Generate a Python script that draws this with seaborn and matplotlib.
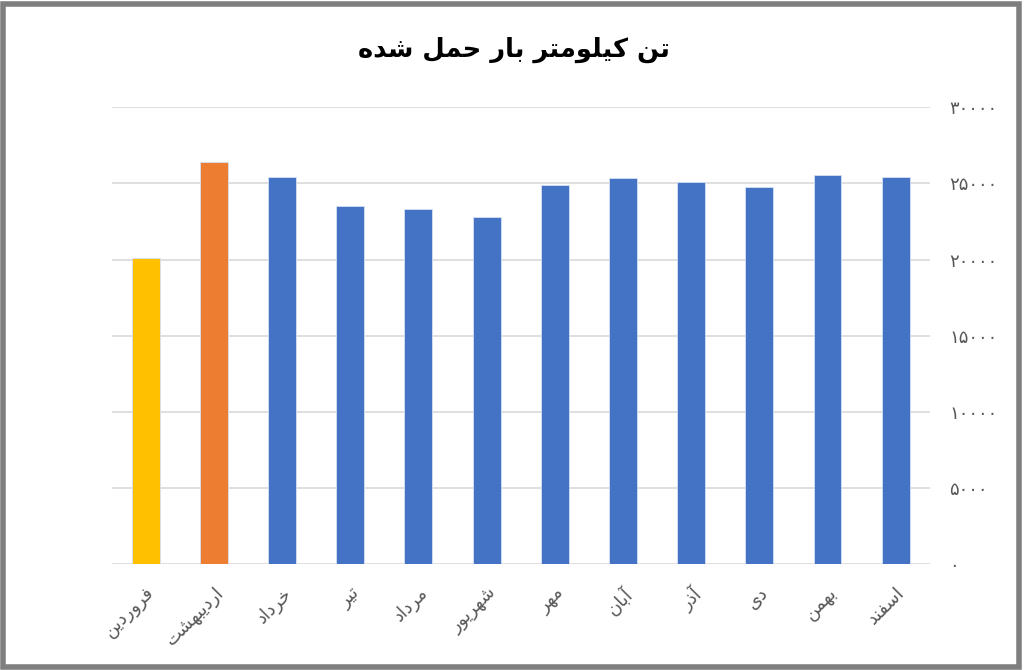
import numpy as np
import pandas as pd
import matplotlib
matplotlib.use("Agg")
import matplotlib.pyplot as plt
import seaborn as sns
from matplotlib.patches import Rectangle

sns.set_theme(style="white")
plt.rcParams["font.family"] = ["DejaVu Sans"]

title = "تن کیلومتر بار حمل شده"
months = ["فروردین", "اردیبهشت", "خرداد", "تیر", "مرداد", "شهریور",
          "مهر", "آبان", "آذر", "دی", "بهمن", "اسفند"]
values = [20070, 26400, 25400, 23530, 23310, 22790,
          24890, 25370, 25090, 24780, 25530, 25440]
bar_colors = ["#FFC000", "#ED7D31"] + ["#4472C4"] * 10
y_ticks = [0, 5000, 10000, 15000, 20000, 25000, 30000]

# matplotlib has no arabic shaping, so pick presentation forms by hand
# forms: isolated, final, initial, medial
FORMS = {
    "ا": ("\uFE8D", "\uFE8E"), "آ": ("\uFE81", "\uFE82"),
    "د": ("\uFEA9", "\uFEAA"), "ذ": ("\uFEAB", "\uFEAC"),
    "ر": ("\uFEAD", "\uFEAE"), "و": ("\uFEED", "\uFEEE"),
    "ب": ("\uFE8F", "\uFE90", "\uFE91", "\uFE92"),
    "ت": ("\uFE95", "\uFE96", "\uFE97", "\uFE98"),
    "ح": ("\uFEA1", "\uFEA2", "\uFEA3", "\uFEA4"),
    "خ": ("\uFEA5", "\uFEA6", "\uFEA7", "\uFEA8"),
    "س": ("\uFEB1", "\uFEB2", "\uFEB3", "\uFEB4"),
    "ش": ("\uFEB5", "\uFEB6", "\uFEB7", "\uFEB8"),
    "ف": ("\uFED1", "\uFED2", "\uFED3", "\uFED4"),
    "ل": ("\uFEDD", "\uFEDE", "\uFEDF", "\uFEE0"),
    "م": ("\uFEE1", "\uFEE2", "\uFEE3", "\uFEE4"),
    "ن": ("\uFEE5", "\uFEE6", "\uFEE7", "\uFEE8"),
    "ه": ("\uFEE9", "\uFEEA", "\uFEEB", "\uFEEC"),
    "ی": ("\uFBFC", "\uFBFD", "\uFBFE", "\uFBFF"),
    "ک": ("\uFB8E", "\uFB8F", "\uFB90", "\uFB91"),
}


def shape(text):
    out = []
    for i, ch in enumerate(text):
        if ch not in FORMS:
            out.append(ch)
            continue
        prev = text[i - 1] if i > 0 else ""
        nxt = text[i + 1] if i + 1 < len(text) else ""
        join_prev = prev in FORMS and len(FORMS[prev]) == 4
        join_next = len(FORMS[ch]) == 4 and nxt in FORMS
        f = FORMS[ch]
        if join_prev and join_next:
            out.append(f[3])
        elif join_prev:
            out.append(f[1])
        elif join_next:
            out.append(f[2])
        else:
            out.append(f[0])
    return "".join(out)[::-1]


def fa_digits(n):
    return str(n).translate(str.maketrans("0123456789", "۰۱۲۳۴۵۶۷۸۹"))


df = pd.DataFrame({"month": months, "value": values})

fig = plt.figure(figsize=(10.24, 6.7), dpi=100)
ax = fig.add_axes([0.109, 0.158, 0.799, 0.682])

sns.barplot(data=df, x="month", y="value", hue="month", palette=bar_colors,
            saturation=1, width=0.41, legend=False, ax=ax,
            edgecolor="#D6E0F2", linewidth=0.6, zorder=3)

ax.set_ylim(0, 30000)
ax.set_xlim(-0.5, len(months) - 0.5)
ax.yaxis.tick_right()
ax.set_yticks(y_ticks)
ax.set_yticklabels([fa_digits(v) for v in y_ticks], fontsize=13, color="#595959",
                   ha="left")
ax.tick_params(axis="y", length=0, pad=14)
ax.set_xticks(range(len(months)))
ax.set_xticklabels([shape(m) for m in months], rotation=45, ha="right",
                   rotation_mode="anchor", fontsize=13, color="#595959")
ax.tick_params(axis="x", length=0, pad=14)
ax.set_xlabel("")
ax.set_ylabel("")
ax.yaxis.grid(True, color="#D9D9D9", linewidth=1.2, zorder=0)
for s in ax.spines.values():
    s.set_visible(False)

fig.text(0.502, 0.925, shape(title), ha="center", va="center",
         fontsize=18.5, fontweight="heavy", color="black")

fig.patches.append(Rectangle((0.0025, 0.004), 0.993, 0.99, transform=fig.transFigure,
                             fill=False, edgecolor="#7F7F7F", linewidth=4))

fig.savefig("out.png", dpi=100)
